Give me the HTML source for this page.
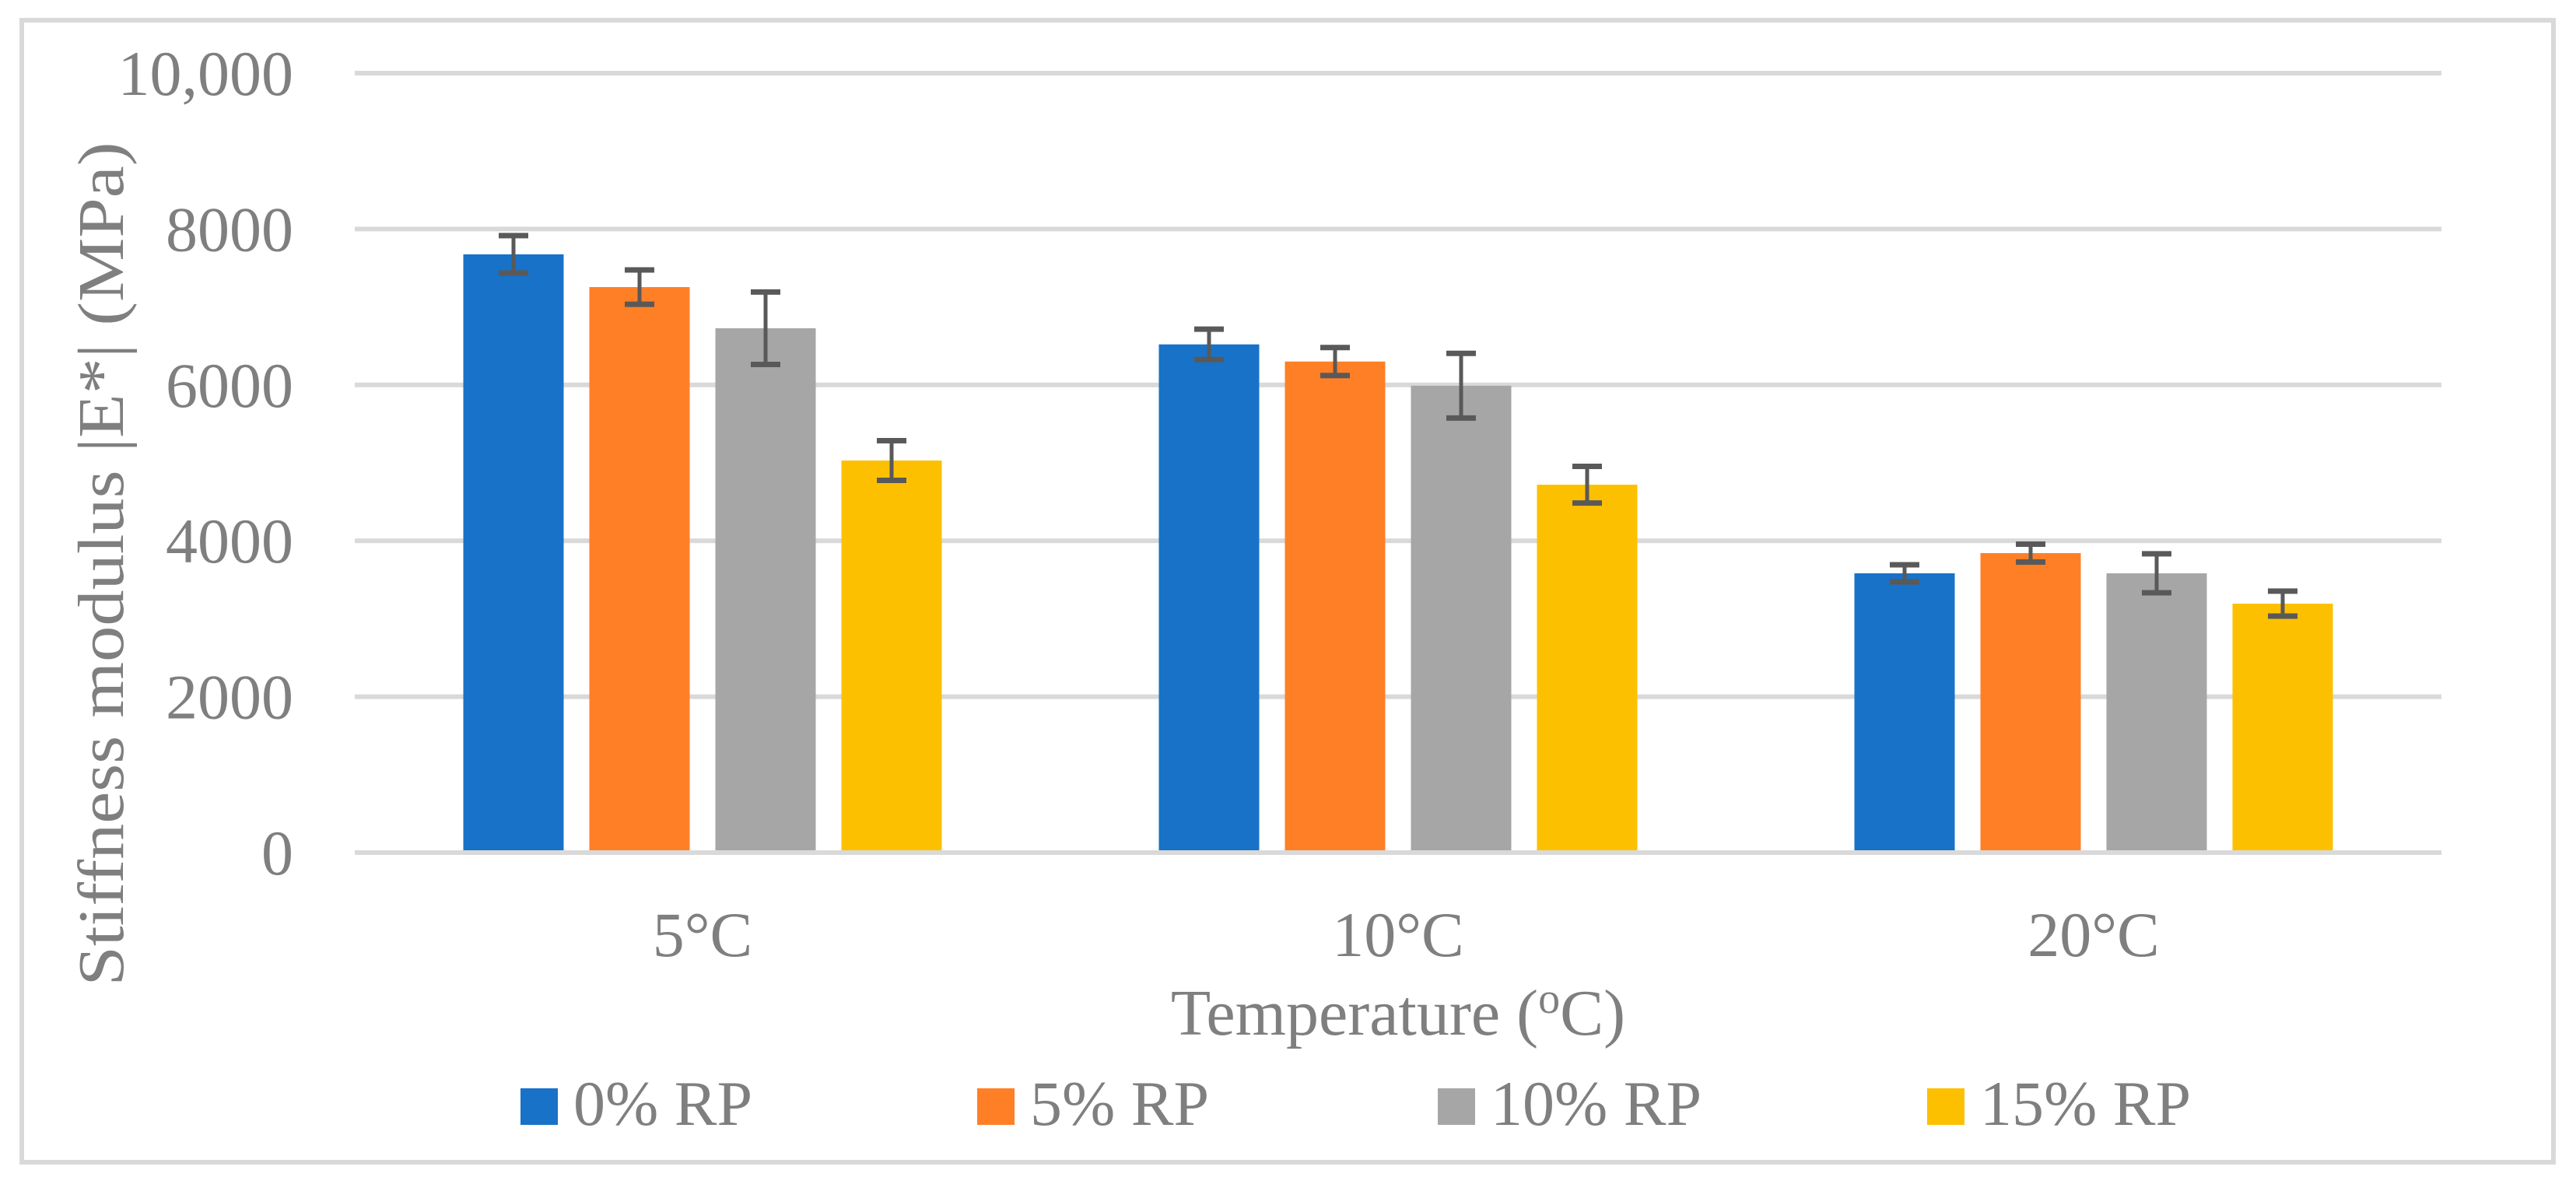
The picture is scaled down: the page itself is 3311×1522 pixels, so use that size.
<!DOCTYPE html>
<html><head><meta charset="utf-8"><style>
html,body{margin:0;padding:0;background:#fff;}
svg{display:block;font-family:"Liberation Serif",serif;}
</style></head><body>
<svg id="chart" width="3311" height="1522" viewBox="0 0 3311 1522" xmlns="http://www.w3.org/2000/svg">
<rect x="28" y="26" width="3254" height="1468" fill="#fff" stroke="#d9d9d9" stroke-width="6"/>
<g id="grid"></g>
<g id="bars"></g>
<g id="errs"></g>
<g id="labels" fill="#7f7f7f"></g>
<text transform="translate(158,725) rotate(-90)" text-anchor="middle" font-size="84" fill="#7f7f7f" textLength="1085" lengthAdjust="spacingAndGlyphs">Stiffness modulus |E*| (MPa)</text>
<text x="1797" y="1330" text-anchor="middle" font-size="84" fill="#7f7f7f">Temperature (<tspan font-size="56" dy="-28">o</tspan><tspan dy="28">C)</tspan></text>
<g id="legend"></g>
</svg>
<script>
const categories = ["5°C", "10°C", "20°C"];
const seriesNames = ["0% RP", "5% RP", "10% RP", "15% RP"];
const colors = ["#1872c8", "#ff7f27", "#a6a6a6", "#fdc000"];
const values0 = [7675, 6520, 3583];
const values5 = [7255, 6300, 3842];
const values10 = [6727, 5990, 3583];
const values15 = [5030, 4720, 3194];
const errs0 = [240, 195, 110];
const errs5 = [220, 180, 115];
const errs10 = [465, 415, 250];
const errs15 = [255, 235, 160];
const yTicks = [0, 2000, 4000, 6000, 8000, 10000];
const yTickLabels = ["0", "2000", "4000", "6000", "8000", "10,000"];
const legendXs = [669, 1256, 1848, 2477];

const values = [values0, values5, values10, values15];
const errs = [errs0, errs5, errs10, errs15];
const NS = "http://www.w3.org/2000/svg";
const plotL = 456, plotR = 3138, y0 = 1096, yTop = 94, yMax = 10000;
const yScale = v => y0 - (v / yMax) * (y0 - yTop);
const groupW = (plotR - plotL) / categories.length;
const barW = 129, step = 162;
const xBar = (c, s) => plotL + groupW * c + groupW / 2 + (s - 1.5) * step - barW / 2;
function mk(tag, attrs, parent) {
  const e = document.createElementNS(NS, tag);
  for (const k in attrs) e.setAttribute(k, attrs[k]);
  parent.appendChild(e); return e;
}
const grid = document.getElementById('grid'), bars = document.getElementById('bars'),
      errG = document.getElementById('errs'), labels = document.getElementById('labels'),
      legend = document.getElementById('legend');
yTicks.forEach((t, i) => {
  const y = yScale(t);
  const g = mk('rect', {x: plotL, y: y - 3, width: plotR - plotL, height: 6, fill: '#d9d9d9'}, grid);
  
  
  const tx = mk('text', {x: 377, y: y + 28, 'text-anchor': 'end', 'font-size': 82}, labels);
  tx.textContent = yTickLabels[i];
  
  
});
categories.forEach((cat, c) => {
  const tx = mk('text', {x: plotL + groupW * c + groupW / 2, y: 1229, 'text-anchor': 'middle', 'font-size': 82}, labels);
  tx.textContent = cat;
  
  
  values.forEach((ser, s) => {
    const x = xBar(c, s), top = yScale(ser[c]);
    const b = mk('rect', {x: x, y: top, width: barW, height: y0 - 3 - top, fill: colors[s]}, bars);
    
    
    const cx = x + barW / 2, hi = yScale(ser[c] + errs[s][c]), lo = yScale(ser[c] - errs[s][c]);
    const eg = mk('g', {stroke: '#595959', 'stroke-width': 5}, errG);
    
    
    mk('line', {x1: cx, y1: hi, x2: cx, y2: lo}, eg);
    mk('line', {x1: cx - 19, y1: hi, x2: cx + 19, y2: hi, 'stroke-width': 7}, eg);
    mk('line', {x1: cx - 19, y1: lo, x2: cx + 19, y2: lo, 'stroke-width': 7}, eg);
  });
});
seriesNames.forEach((n, s) => {
  const g = mk('g', {}, legend);
  
  
  mk('rect', {x: legendXs[s], y: 1399, width: 48, height: 47, fill: colors[s]}, g);
  const t = mk('text', {x: legendXs[s] + 68, y: 1446, 'font-size': 82, fill: '#7f7f7f'}, g);
  t.textContent = n;
});
</script>
</body></html>
